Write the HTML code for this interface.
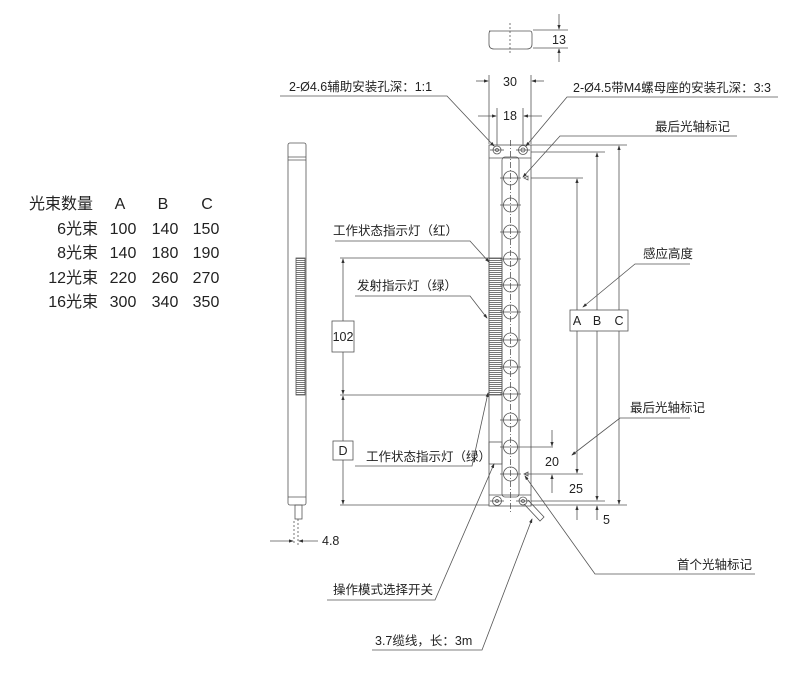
<!DOCTYPE html>
<html><head><meta charset="utf-8"><style>
html,body{margin:0;padding:0;background:#fff;width:800px;height:677px;overflow:hidden}
svg{display:block}
text{font-family:"Liberation Sans","Noto Sans CJK SC",sans-serif;fill:#222}
.t{font-size:16px}
.l{font-size:12.5px}
</style></head><body>
<svg width="800" height="677" viewBox="0 0 800 677" xmlns="http://www.w3.org/2000/svg">
<defs>
<pattern id="h" width="2" height="2" patternUnits="userSpaceOnUse"><rect width="2" height="1" fill="#777"/></pattern>
<marker id="a" markerWidth="6" markerHeight="6" refX="5" refY="3" orient="auto"><path d="M0,1 L6,3 L0,5 z" fill="#333"/></marker>
</defs>
<g class="t">
<text x="29" y="209" class="t">光束数量</text>
<text x="120" y="209" text-anchor="middle" class="t">A</text>
<text x="163" y="209" text-anchor="middle" class="t">B</text>
<text x="207" y="209" text-anchor="middle" class="t">C</text>
<g text-anchor="end" class="t">
<text x="98" y="234" class="t">6光束</text><text x="98" y="258" class="t">8光束</text><text x="98" y="283" class="t">12光束</text><text x="98" y="307" class="t">16光束</text>
</g>
<g text-anchor="middle">
<text x="123" y="234" class="t">100</text><text x="165" y="234" class="t">140</text><text x="206" y="234" class="t">150</text>
<text x="123" y="258" class="t">140</text><text x="165" y="258" class="t">180</text><text x="206" y="258" class="t">190</text>
<text x="123" y="283" class="t">220</text><text x="165" y="283" class="t">260</text><text x="206" y="283" class="t">270</text>
<text x="123" y="307" class="t">300</text><text x="165" y="307" class="t">340</text><text x="206" y="307" class="t">350</text>
</g>
</g>

<g stroke="#555" stroke-width="0.8" fill="none">
<path d="M489,31 H530 Q532,31 532,34 V44 Q532,49 527,49 H494 Q489,49 489,44 V34 Q489,31 491,31 Z"/>
<line x1="510" y1="23" x2="510" y2="55" stroke-dasharray="2,2"/>
<line x1="533" y1="30" x2="568" y2="30"/><line x1="533" y1="48" x2="568" y2="48"/>
<line x1="559" y1="14" x2="559" y2="29" marker-end="url(#a)"/><line x1="559" y1="62" x2="559" y2="49" marker-end="url(#a)"/>

<rect x="288" y="143" width="18" height="362" rx="2"/>
<line x1="288" y1="157" x2="306" y2="157"/><line x1="288" y1="160" x2="306" y2="160"/>
<rect x="296" y="258" width="9" height="137" fill="url(#h)"/>
<line x1="288" y1="497" x2="306" y2="497"/>
<rect x="295" y="505" width="7" height="14"/>
<line x1="298" y1="519" x2="298" y2="545" stroke-dasharray="2,2"/>
<line x1="294" y1="521" x2="294" y2="545" stroke-dasharray="2,2"/>
<line x1="270" y1="541" x2="293" y2="541" marker-end="url(#a)"/>
<line x1="318" y1="541" x2="299" y2="541" marker-end="url(#a)"/>

<rect x="489" y="145" width="42" height="361"/>
<line x1="489" y1="158" x2="531" y2="158"/>
<rect x="502" y="157" width="17" height="340" rx="3"/>
<line x1="510.5" y1="140" x2="510.5" y2="512" stroke-dasharray="6,2,1,2"/>
<line x1="489" y1="495" x2="531" y2="495"/>
<rect x="489" y="258" width="13" height="137" fill="url(#h)"/>
<rect x="489" y="442" width="13" height="22"/>
<circle cx="497" cy="150" r="4"/><circle cx="497" cy="150" r="1.5"/>
<circle cx="523" cy="150" r="4.5"/><circle cx="523" cy="150" r="2"/>
<circle cx="497" cy="501" r="4.5"/><circle cx="497" cy="501" r="1.5"/>
<circle cx="523" cy="501" r="4"/><circle cx="523" cy="501" r="1.5"/>
<line x1="490" y1="150" x2="504" y2="150"/><line x1="516" y1="150" x2="530" y2="150"/>
<line x1="490" y1="501" x2="504" y2="501"/><line x1="516" y1="501" x2="530" y2="501"/>
<path d="M524,504 L540,521 L544,517 L528,500" />
<g>
<circle cx="510.5" cy="178" r="7"/><circle cx="510.5" cy="205" r="7"/><circle cx="510.5" cy="232" r="7"/><circle cx="510.5" cy="259" r="7"/>
<circle cx="510.5" cy="285" r="7"/><circle cx="510.5" cy="312" r="7"/><circle cx="510.5" cy="340" r="7"/><circle cx="510.5" cy="367" r="7"/>
<circle cx="510.5" cy="394" r="7"/><circle cx="510.5" cy="420" r="7"/><circle cx="510.5" cy="447" r="7"/><circle cx="510.5" cy="474" r="7"/>
</g>
<g>
<line x1="500" y1="178" x2="521" y2="178"/><line x1="500" y1="205" x2="521" y2="205"/><line x1="500" y1="232" x2="521" y2="232"/><line x1="500" y1="259" x2="521" y2="259"/>
<line x1="500" y1="285" x2="521" y2="285"/><line x1="500" y1="312" x2="521" y2="312"/><line x1="500" y1="340" x2="521" y2="340"/><line x1="500" y1="367" x2="521" y2="367"/>
<line x1="500" y1="394" x2="521" y2="394"/><line x1="500" y1="420" x2="521" y2="420"/><line x1="500" y1="447" x2="521" y2="447"/><line x1="500" y1="474" x2="521" y2="474"/>
</g>
<path d="M524,178 L528,176 L528,180 Z"/><path d="M524,474 L528,472 L528,476 Z"/>

<line x1="489" y1="75" x2="489" y2="144"/><line x1="531" y1="75" x2="531" y2="144"/>
<line x1="497" y1="108" x2="497" y2="145"/><line x1="523" y1="108" x2="523" y2="145"/>
<line x1="476" y1="81" x2="488" y2="81" marker-end="url(#a)"/><line x1="544" y1="81" x2="532" y2="81" marker-end="url(#a)"/>
<line x1="478" y1="116" x2="496" y2="116" marker-end="url(#a)"/><line x1="542" y1="116" x2="524" y2="116" marker-end="url(#a)"/>

<line x1="531" y1="145" x2="627" y2="145"/><line x1="531" y1="152" x2="605" y2="152"/><line x1="531" y1="178" x2="583" y2="178"/>
<line x1="524" y1="474" x2="583" y2="474"/><line x1="531" y1="501" x2="605" y2="501"/><line x1="531" y1="505" x2="627" y2="505"/>
<line x1="521" y1="447" x2="553" y2="447"/>
<line x1="577" y1="310" x2="577" y2="179" marker-end="url(#a)"/><line x1="577" y1="330" x2="577" y2="473" marker-end="url(#a)"/>
<line x1="597" y1="310" x2="597" y2="153" marker-end="url(#a)"/><line x1="597" y1="330" x2="597" y2="500" marker-end="url(#a)"/>
<line x1="619" y1="310" x2="619" y2="146" marker-end="url(#a)"/><line x1="619" y1="330" x2="619" y2="504" marker-end="url(#a)"/>
<rect x="570" y="310" width="58" height="21" fill="#fff"/>
<line x1="552" y1="430" x2="552" y2="446" marker-end="url(#a)"/><line x1="552" y1="493" x2="552" y2="475" marker-end="url(#a)"/>
<line x1="577" y1="520" x2="577" y2="506" marker-end="url(#a)"/><line x1="597" y1="520" x2="597" y2="506" marker-end="url(#a)"/>

<line x1="340" y1="258" x2="489" y2="258"/><line x1="340" y1="395" x2="489" y2="395"/><line x1="340" y1="505" x2="489" y2="505"/>
<line x1="343" y1="321" x2="343" y2="259" marker-end="url(#a)"/><line x1="343" y1="352" x2="343" y2="394" marker-end="url(#a)"/>
<line x1="343" y1="441" x2="343" y2="396" marker-end="url(#a)"/><line x1="343" y1="460" x2="343" y2="504" marker-end="url(#a)"/>
<rect x="332" y="321" width="22" height="31" fill="#fff"/>
<rect x="333" y="441" width="20" height="19" fill="#fff"/>

<polyline points="280,96 447,96 494,146" marker-end="url(#a)"/>
<polyline points="778,97 567,97 526,146" marker-end="url(#a)"/>
<polyline points="737,136 560,136 523,177" marker-end="url(#a)"/>
<polyline points="335,241 470,241 489,262" marker-end="url(#a)"/>
<polyline points="355,296 470,296 487,318" marker-end="url(#a)"/>
<polyline points="355,466 472,466 488,393" marker-end="url(#a)"/>
<polyline points="690,264 635,264 583,307" marker-end="url(#a)"/>
<polyline points="690,418 620,418 572,455" marker-end="url(#a)"/>
<polyline points="755,574 595,574 525,476" marker-end="url(#a)"/>
<polyline points="327,600 435,600 494,464" marker-end="url(#a)"/>
<polyline points="372,650 482,650 532,519" marker-end="url(#a)"/>
</g>

<g class="l">
<text x="510" y="86" text-anchor="middle" font-size="13" class="l">30</text>
<text x="510" y="120" text-anchor="middle" font-size="13" class="l">18</text>
<text x="552" y="44" font-size="13" class="l">13</text>
<text x="289" y="91" class="l">2-Ø4.6辅助安装孔深：1:1</text>
<text x="573" y="92" class="l">2-Ø4.5带M4螺母座的安装孔深：3:3</text>
<text x="655" y="131" class="l">最后光轴标记</text>
<text x="333" y="235" class="l">工作状态指示灯（红）</text>
<text x="357" y="290" class="l">发射指示灯（绿）</text>
<text x="343" y="341" text-anchor="middle" font-size="12" class="l">102</text>
<text x="343" y="455" text-anchor="middle" font-size="12" class="l">D</text>
<text x="366" y="461" font-size="10.5" class="l">工作状态指示灯（绿）</text>
<text x="643" y="258" class="l">感应高度</text>
<text x="577" y="325" text-anchor="middle" font-size="13" class="l">A</text>
<text x="597" y="325" text-anchor="middle" font-size="13" class="l">B</text>
<text x="619" y="325" text-anchor="middle" font-size="13" class="l">C</text>
<text x="630" y="412" class="l">最后光轴标记</text>
<text x="545" y="466" font-size="13" class="l">20</text>
<text x="569" y="493" font-size="13" class="l">25</text>
<text x="603" y="524" font-size="13" class="l">5</text>
<text x="322" y="545" font-size="12" class="l">4.8</text>
<text x="677" y="569" class="l">首个光轴标记</text>
<text x="333" y="594" class="l">操作模式选择开关</text>
<text x="375" y="645" class="l">3.7缆线，长：3m</text>
</g>
</svg>
</body></html>
